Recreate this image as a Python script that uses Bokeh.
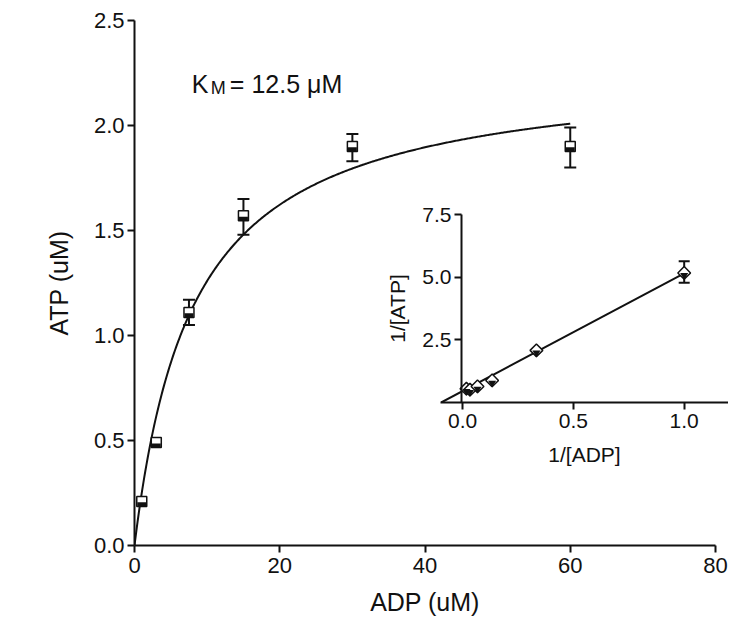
import numpy as np
from bokeh.plotting import figure
from bokeh.models import (Range1d, FixedTicker, NumeralTickFormatter, Whisker, TeeHead,
                          ColumnDataSource, Label)
from bokeh.layouts import column
from bokeh.transform import dodge
from bokeh.embed import file_html
from bokeh.resources import INLINE

# ---------------- data ----------------
adp = [1, 3, 7.5, 15, 30, 60]
atp = [0.21, 0.49, 1.11, 1.57, 1.90, 1.90]
err_adp = [7.5, 15, 30, 60]
err_upper = [1.17, 1.65, 1.96, 1.99]
err_lower = [1.05, 1.48, 1.83, 1.80]
vmax_fit = 2.28
km_fit = 8.1
curve_x_max = 60

inv_adp = [0.017, 0.033, 0.067, 0.133, 0.333, 1.0]
inv_atp = [0.55, 0.51, 0.64, 0.88, 2.08, 5.17]
inv_err_x = [1.0]
inv_err_upper = [5.63]
inv_err_lower = [4.78]
lb_slope = 4.7
lb_intercept = 0.455
lb_x_end = 1.0

main_xticks = [0, 20, 40, 60, 80]
main_yticks = [0, 0.5, 1.0, 1.5, 2.0, 2.5]
inset_xticks = [0, 0.5, 1.0]
inset_yticks = [2.5, 5.0, 7.5]

km_text_pos = (7.9, 2.2)

FONT = "Liberation Sans"
INK = "#111111"
LEFT_BORDER = 134  # a column aligns the left borders of its figures; use one value for all


def style_axis(ax, tick_size="22px", label_size="25px"):
    ax.axis_line_width = 2
    ax.axis_line_color = INK
    ax.major_tick_line_width = 2
    ax.major_tick_line_color = INK
    ax.major_tick_out = 7
    ax.major_tick_in = 0
    ax.minor_tick_line_color = None
    ax.major_label_text_font = FONT
    ax.major_label_text_font_size = tick_size
    ax.major_label_text_color = INK
    ax.axis_label_text_font = FONT
    ax.axis_label_text_font_size = label_size
    ax.axis_label_text_font_style = "normal"
    ax.axis_label_text_color = INK


# ---------------- main plot ----------------
p = figure(frame_width=581, frame_height=525,
           x_range=Range1d(0, 80), y_range=Range1d(0, 2.5),
           min_border_left=LEFT_BORDER, min_border_top=20, min_border_right=27,
           min_border_bottom=76,
           output_backend="svg", toolbar_location=None)
p.outline_line_color = None
p.grid.visible = False
p.background_fill_color = "white"
p.border_fill_color = "white"

p.xaxis.ticker = FixedTicker(ticks=main_xticks)
p.yaxis.ticker = FixedTicker(ticks=main_yticks)
p.xaxis.formatter = NumeralTickFormatter(format="0")
p.yaxis.formatter = NumeralTickFormatter(format="0.0")
p.xaxis.axis_label = "ADP (uM)"
p.yaxis.axis_label = "ATP (uM)"
style_axis(p.xaxis[0])
style_axis(p.yaxis[0])
p.xaxis.major_label_standoff = 5
p.yaxis.major_label_standoff = 3
p.xaxis.axis_label_standoff = 12
p.yaxis.axis_label_standoff = 18

cx = np.linspace(0, curve_x_max, 400)
cy = vmax_fit * cx / (km_fit + cx)
p.line(cx, cy, line_color=INK, line_width=2)

err_src = ColumnDataSource(dict(x=err_adp, upper=err_upper, lower=err_lower))
p.add_layout(Whisker(base="x", upper="upper", lower="lower", source=err_src, dimension="height",
                     line_width=2, line_color=INK,
                     upper_head=TeeHead(size=12, line_width=2, line_color=INK),
                     lower_head=TeeHead(size=12, line_width=2, line_color=INK)))

msrc = ColumnDataSource(dict(x=adp, y=atp))
p.scatter("x", "y", source=msrc, marker="square", size=10, fill_color="white",
          line_color=INK, line_width=1.5)
p.rect(x="x", y=dodge("y", -0.0135, range=p.y_range), source=msrc, width=9, height=4,
       width_units="screen", height_units="screen", fill_color=INK, line_color=None)

lx, ly = km_text_pos
p.add_layout(Label(x=lx, y=ly, text="K", text_font=FONT, text_font_size="25px",
                   text_color=INK, text_baseline="alphabetic"))
p.add_layout(Label(x=lx, y=ly, x_offset=19, y_offset=-4, text="M", text_font=FONT,
                   text_font_size="18px", text_color=INK, text_baseline="alphabetic"))
p.add_layout(Label(x=lx, y=ly, x_offset=38, text="= 12.5 \u03bcM", text_font=FONT,
                   text_font_size="25px", text_color=INK, text_baseline="alphabetic"))

# ---------------- inset: data + x axis ----------------
q = figure(frame_width=288, frame_height=188,
           x_range=Range1d(-0.1, 1.2), y_range=Range1d(0, 7.5),
           min_border_left=LEFT_BORDER, min_border_top=10, min_border_right=0,
           min_border_bottom=65,
           output_backend="svg", toolbar_location=None,
           background_fill_alpha=0, border_fill_alpha=0)
q.outline_line_color = None
q.grid.visible = False
q.yaxis.visible = False
q.xaxis.ticker = FixedTicker(ticks=inset_xticks)
q.xaxis.formatter = NumeralTickFormatter(format="0.0")
q.xaxis.axis_label = "1/[ADP]"
style_axis(q.xaxis[0], "21px", "21px")
q.xaxis.major_label_standoff = 4
q.xaxis.axis_label_standoff = 12

lx0 = -lb_intercept / lb_slope
q.line([lx0, lb_x_end], [lb_intercept + lb_slope * lx0, lb_intercept + lb_slope * lb_x_end],
       line_color=INK, line_width=2)

ierr = ColumnDataSource(dict(x=inv_err_x, upper=inv_err_upper, lower=inv_err_lower))
q.add_layout(Whisker(base="x", upper="upper", lower="lower", source=ierr, dimension="height",
                     line_width=2, line_color=INK,
                     upper_head=TeeHead(size=11, line_width=2, line_color=INK),
                     lower_head=TeeHead(size=11, line_width=2, line_color=INK)))
isrc = ColumnDataSource(dict(x=inv_adp, y=inv_atp))
q.scatter("x", "y", source=isrc, marker="square", angle=np.pi / 4, size=9,
          fill_color="white", line_color=INK, line_width=1.5)
q.scatter(x="x", y=dodge("y", -0.1, range=q.y_range), source=isrc, marker="inverted_triangle",
          size=8, fill_color=INK, line_color=None)

# frame left edge wanted at page x = 440, top at 214
q.styles = {"position": "absolute", "left": f"{440 - LEFT_BORDER}px", "top": "204px"}

# ---------------- inset: y axis at x = 0 ----------------
r = figure(frame_width=267, frame_height=188,
           x_range=Range1d(0, 1.2), y_range=Range1d(0, 7.5),
           min_border_left=LEFT_BORDER, min_border_top=10, min_border_right=0,
           min_border_bottom=65,
           output_backend="svg", toolbar_location=None,
           background_fill_alpha=0, border_fill_alpha=0)
r.outline_line_color = None
r.grid.visible = False
r.xaxis.visible = False
r.yaxis.ticker = FixedTicker(ticks=inset_yticks)
r.yaxis.formatter = NumeralTickFormatter(format="0.0")
r.yaxis.axis_label = "1/[ATP]"
style_axis(r.yaxis[0], "21px", "21px")
r.yaxis.major_label_standoff = 3
r.yaxis.axis_label_standoff = 10
# y axis wanted at page x = 461 (inset x = 0)
r.styles = {"position": "absolute", "left": f"{461 - LEFT_BORDER}px", "top": "204px"}

layout = column(p, q, r)
open("out.html", "w").write(file_html(layout, INLINE))
